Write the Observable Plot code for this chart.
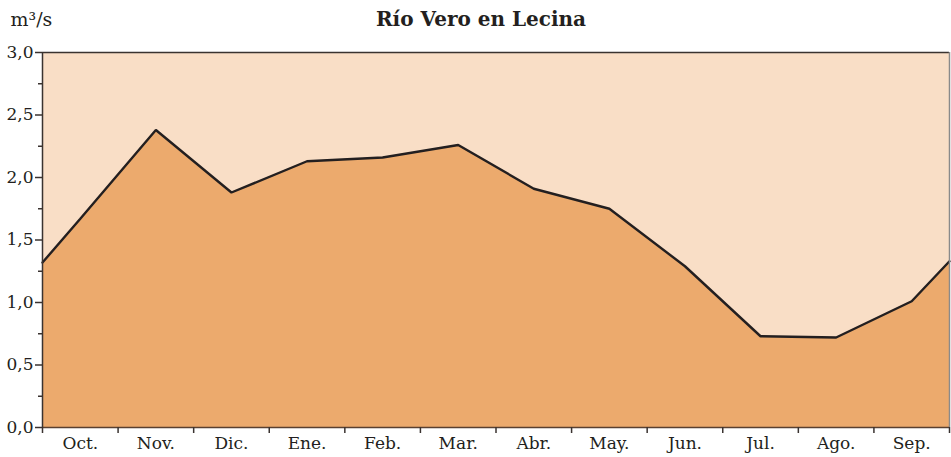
<!DOCTYPE html>
<html>
<head>
<meta charset="utf-8">
<script src="https://cdn.jsdelivr.net/npm/d3@7"></script>
<script src="https://cdn.jsdelivr.net/npm/@observablehq/plot@0.6"></script>
<style>
  html, body { margin: 0; padding: 0; background: #fff; }
  svg { display: block; }
</style>
</head>
<body>
<div id="chart"></div>
<script>
const title = "Río Vero en Lecina";
const unit = "m³/s";
const months = ["Oct.", "Nov.", "Dic.", "Ene.", "Feb.", "Mar.", "Abr.", "May.", "Jun.", "Jul.", "Ago.", "Sep."];
const flow = [1.67, 2.38, 1.88, 2.13, 2.16, 2.26, 1.91, 1.75, 1.29, 0.73, 0.72, 1.01];
const startValue = 1.32;
const endValue = 1.33;
const yTicks = [0, 0.5, 1, 1.5, 2, 2.5, 3];
const yMinorTicks = [0.25, 0.75, 1.25, 1.75, 2.25, 2.75];

const pts = [{x: 0, y: startValue}]
  .concat(flow.map((v, i) => ({x: i + 0.5, y: v})))
  .concat([{x: months.length, y: endValue}]);
const monthLabels = months.map((m, i) => ({x: i + 0.5, label: m}));
const bounds = d3.range(months.length + 1);

const font = "'DejaVu Serif', 'Liberation Serif', serif";
const fmt = d => d.toFixed(1).replace(".", ",");
const none = () => "";

const chart = Plot.plot({
  width: 951,
  height: 457,
  marginTop: 52,
  marginBottom: 30,
  marginLeft: 42,
  marginRight: 2,
  style: {fontFamily: font, fontSize: "17px", color: "#231f20", background: "#fff"},
  x: {type: "linear", domain: [0, months.length]},
  y: {domain: [0, 3]},
  marks: [
    Plot.frame({fill: "#f9dec6", stroke: null}),
    Plot.areaY(pts, {x: "x", y: "y", fill: "#ecaa6d"}),
    Plot.lineY(pts, {x: "x", y: "y", stroke: "#231f20", strokeWidth: 2.4, strokeLinejoin: "miter"}),
    Plot.ruleY([3], {stroke: "#3a3330", strokeWidth: 1.5}),
    Plot.ruleX([months.length], {stroke: "#8a8a8a", strokeWidth: 1.5}),
    Plot.ruleY([0], {stroke: "#5a4030", strokeWidth: 1.5}),
    Plot.ruleX([0], {stroke: "#3a3330", strokeWidth: 1.5}),
    Plot.axisY({ticks: yTicks, tickFormat: fmt, tickSize: 7, tickPadding: 2, stroke: "#3a3330", strokeWidth: 1.5, label: null, fontSize: 17}),
    Plot.axisY({ticks: yMinorTicks, tickFormat: none, tickSize: 4, stroke: "#3a3330", strokeWidth: 1.5, label: null}),
    Plot.axisX({ticks: bounds, tickFormat: none, tickSize: 6, stroke: "#3a3330", strokeWidth: 1.5, label: null}),
    Plot.text(monthLabels, {x: "x", y: 0, text: "label", dy: 16, fontSize: 17, fill: "#231f20"}),
    Plot.text([title], {frameAnchor: "top", lineAnchor: "middle", dx: -15, dy: -33, fontSize: 20, fontWeight: "bold", fill: "#231f20"}),
    Plot.text([unit], {frameAnchor: "top-left", lineAnchor: "middle", dx: -32, dy: -33, fontSize: 19, textAnchor: "start", fill: "#231f20"})
  ]
});
document.getElementById("chart").appendChild(chart);
</script>
</body>
</html>
